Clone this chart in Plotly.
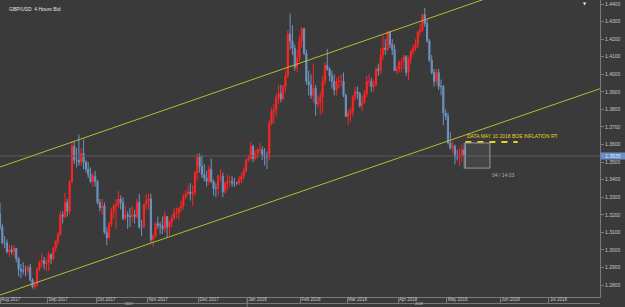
import pandas as pd
import plotly.graph_objects as go

# ---------------- data ----------------
first_day = "2017-08-03"
last_day = "2018-05-10"

opens = [
    # Aug 2017
    1.3205, 1.3130, 1.3040, 1.3040, 1.2990, 1.3000, 1.2990, 1.3010, 1.2950, 1.2890, 1.2880,
    1.2880, 1.2880, 1.2900, 1.2830, 1.2790, 1.2800, 1.2890, 1.2930, 1.2940, 1.2920,
    # Sep
    1.2930, 1.2975, 1.2950, 1.3010, 1.3050, 1.3090, 1.3200, 1.3190, 1.3270, 1.3220, 1.3390,
    1.3590, 1.3510, 1.3510, 1.3500, 1.3550, 1.3500, 1.3460, 1.3430, 1.3390, 1.3420,
    # Oct
    1.3390, 1.3270, 1.3240, 1.3250, 1.3100, 1.3070, 1.3150, 1.3220, 1.3250, 1.3260, 1.3290,
    1.3270, 1.3180, 1.3200, 1.3190, 1.3190, 1.3200, 1.3190, 1.3270, 1.3130, 1.3130, 1.3260,
    # Nov
    1.3280, 1.3290, 1.3060, 1.3080, 1.3150, 1.3140, 1.3140, 1.3120, 1.3190, 1.3130, 1.3160,
    1.3180, 1.3210, 1.3210, 1.3240, 1.3250, 1.3300, 1.3320, 1.3330, 1.3320, 1.3330, 1.3440,
    # Dec
    1.3530, 1.3475, 1.3430, 1.3410, 1.3390, 1.3460, 1.3390, 1.3350, 1.3350, 1.3420, 1.3420,
    1.3330, 1.3380, 1.3390, 1.3390, 1.3380, 1.3380, 1.3380, 1.3400, 1.3420, 1.3450,
    # Jan 2018
    1.3510, 1.3520, 1.3590, 1.3520, 1.3550, 1.3570, 1.3570, 1.3540, 1.3530, 1.3530, 1.3720,
    1.3790, 1.3800, 1.3870, 1.3890, 1.3860, 1.3930, 1.3990, 1.4230, 1.4190, 1.4150, 1.4040,
    1.4090,
    # Feb
    1.4190, 1.4260, 1.4120, 1.3960, 1.3940, 1.3880, 1.3920, 1.3830, 1.3840, 1.3870, 1.3960,
    1.4050, 1.4030, 1.3990, 1.3960, 1.3910, 1.3960, 1.3960, 1.3960, 1.3880,
    # Mar
    1.3760, 1.3780, 1.3790, 1.3870, 1.3900, 1.3890, 1.3820, 1.3840, 1.3890, 1.3960, 1.3960,
    1.3930, 1.3940, 1.4030, 1.4020, 1.4110, 1.4150, 1.4140, 1.4240, 1.4170, 1.4140, 1.4020,
    # Apr
    1.4030, 1.4070, 1.4070, 1.4100, 1.4010, 1.4090, 1.4130, 1.4150, 1.4170, 1.4240, 1.4250,
    1.4340, 1.4290, 1.4190, 1.4080, 1.4010, 1.3960, 1.4010, 1.3930, 1.3930, 1.3780,
    # May
    1.3760, 1.3610, 1.3580, 1.3590, 1.3530, 1.3530, 1.3540, 1.3570,
]

highs = [
    # Aug 2017
    1.3268, 1.3150, 1.3080, 1.3060, 1.3030, 1.3025, 1.3030, 1.3010, 1.2960, 1.2920, 1.2930,
    1.2910, 1.2910, 1.2920, 1.2840, 1.2820, 1.2900, 1.2940, 1.2980, 1.2960, 1.2950,
    # Sep
    1.2990, 1.2980, 1.3020, 1.3060, 1.3100, 1.3220, 1.3220, 1.3325, 1.3290, 1.3400, 1.3620,
    1.3620, 1.3580, 1.3657, 1.3580, 1.3630, 1.3510, 1.3500, 1.3470, 1.3440, 1.3450,
    # Oct
    1.3400, 1.3290, 1.3290, 1.3270, 1.3130, 1.3160, 1.3240, 1.3260, 1.3290, 1.3338, 1.3310,
    1.3300, 1.3250, 1.3220, 1.3240, 1.3250, 1.3230, 1.3290, 1.3320, 1.3170, 1.3260, 1.3320,
    # Nov
    1.3320, 1.3320, 1.3090, 1.3160, 1.3190, 1.3160, 1.3190, 1.3220, 1.3190, 1.3170, 1.3200,
    1.3240, 1.3240, 1.3240, 1.3280, 1.3320, 1.3340, 1.3370, 1.3380, 1.3370, 1.3450, 1.3550,
    # Dec
    1.3549, 1.3540, 1.3490, 1.3450, 1.3480, 1.3520, 1.3400, 1.3380, 1.3430, 1.3460, 1.3440,
    1.3390, 1.3430, 1.3420, 1.3420, 1.3410, 1.3390, 1.3420, 1.3440, 1.3470, 1.3520,
    # Jan 2018
    1.3540, 1.3613, 1.3600, 1.3570, 1.3580, 1.3610, 1.3590, 1.3580, 1.3560, 1.3740, 1.3810,
    1.3830, 1.3890, 1.3940, 1.3940, 1.3940, 1.4020, 1.4250, 1.4345, 1.4280, 1.4170, 1.4140,
    1.4220,
    # Feb
    1.4270, 1.4260, 1.4140, 1.4020, 1.4000, 1.4060, 1.3940, 1.3880, 1.3900, 1.3990, 1.4070,
    1.4145, 1.4040, 1.4020, 1.4000, 1.3980, 1.3990, 1.4000, 1.4010, 1.3890,
    # Mar
    1.3800, 1.3810, 1.3880, 1.3930, 1.3930, 1.3900, 1.3880, 1.3910, 1.3990, 1.4000, 1.3980,
    1.3970, 1.4040, 1.4060, 1.4150, 1.4220, 1.4200, 1.4250, 1.4245, 1.4200, 1.4170, 1.4050,
    # Apr
    1.4080, 1.4090, 1.4110, 1.4110, 1.4100, 1.4140, 1.4170, 1.4200, 1.4250, 1.4290, 1.4345,
    1.4377, 1.4310, 1.4200, 1.4110, 1.4030, 1.4030, 1.4030, 1.3970, 1.3940, 1.3800,
    # May
    1.3780, 1.3670, 1.3620, 1.3600, 1.3570, 1.3580, 1.3600, 1.3610,
]

lows = [
    # Aug 2017
    1.3110, 1.3030, 1.3010, 1.2980, 1.2960, 1.2975, 1.2960, 1.2930, 1.2850, 1.2840, 1.2860,
    1.2850, 1.2860, 1.2820, 1.2780, 1.2774, 1.2790, 1.2880, 1.2900, 1.2890, 1.2880,
    # Sep
    1.2880, 1.2920, 1.2940, 1.2990, 1.3030, 1.3080, 1.3150, 1.3180, 1.3190, 1.3200, 1.3380,
    1.3490, 1.3470, 1.3480, 1.3480, 1.3460, 1.3440, 1.3410, 1.3380, 1.3360, 1.3360,
    # Oct
    1.3260, 1.3220, 1.3200, 1.3090, 1.3027, 1.3060, 1.3130, 1.3180, 1.3120, 1.3240, 1.3230,
    1.3170, 1.3170, 1.3120, 1.3130, 1.3160, 1.3150, 1.3180, 1.3120, 1.3080, 1.3130, 1.3230,
    # Nov
    1.3230, 1.3040, 1.3020, 1.3070, 1.3120, 1.3090, 1.3090, 1.3100, 1.3070, 1.3080, 1.3130,
    1.3170, 1.3180, 1.3170, 1.3220, 1.3230, 1.3290, 1.3310, 1.3280, 1.3250, 1.3310, 1.3400,
    # Dec
    1.3440, 1.3410, 1.3390, 1.3360, 1.3370, 1.3380, 1.3310, 1.3300, 1.3310, 1.3390, 1.3300,
    1.3320, 1.3340, 1.3360, 1.3360, 1.3360, 1.3370, 1.3370, 1.3380, 1.3400, 1.3440,
    # Jan 2018
    1.3500, 1.3510, 1.3500, 1.3510, 1.3520, 1.3550, 1.3510, 1.3480, 1.3460, 1.3510, 1.3710,
    1.3720, 1.3760, 1.3830, 1.3840, 1.3850, 1.3900, 1.3980, 1.4140, 1.4110, 1.4020, 1.4010,
    1.4070,
    # Feb
    1.4150, 1.4110, 1.3940, 1.3880, 1.3860, 1.3840, 1.3765, 1.3810, 1.3770, 1.3780, 1.3940,
    1.4020, 1.3960, 1.3920, 1.3880, 1.3880, 1.3920, 1.3930, 1.3870, 1.3760,
    # Mar
    1.3712, 1.3730, 1.3760, 1.3850, 1.3860, 1.3810, 1.3790, 1.3830, 1.3870, 1.3930, 1.3900,
    1.3900, 1.3930, 1.3990, 1.4000, 1.4080, 1.4110, 1.4130, 1.4150, 1.4110, 1.4020, 1.4000,
    # Apr
    1.4010, 1.4010, 1.4030, 1.3990, 1.3965, 1.4060, 1.4110, 1.4130, 1.4150, 1.4220, 1.4240,
    1.4270, 1.4180, 1.4070, 1.4000, 1.3930, 1.3940, 1.3910, 1.3880, 1.3710, 1.3740,
    # May
    1.3600, 1.3570, 1.3550, 1.3487, 1.3510, 1.3480, 1.3500, 1.3460,
]

closes = [
    # Aug 2017
    1.3130, 1.3040, 1.3040, 1.2990, 1.3000, 1.2990, 1.3010, 1.2950, 1.2890, 1.2880, 1.2880,
    1.2880, 1.2900, 1.2830, 1.2790, 1.2800, 1.2890, 1.2930, 1.2940, 1.2920, 1.2930,
    # Sep
    1.2975, 1.2950, 1.3010, 1.3050, 1.3090, 1.3200, 1.3190, 1.3270, 1.3220, 1.3390, 1.3590,
    1.3510, 1.3510, 1.3500, 1.3550, 1.3500, 1.3460, 1.3430, 1.3390, 1.3420, 1.3390,
    # Oct
    1.3270, 1.3240, 1.3250, 1.3100, 1.3070, 1.3150, 1.3220, 1.3250, 1.3260, 1.3290, 1.3270,
    1.3180, 1.3200, 1.3190, 1.3190, 1.3200, 1.3190, 1.3270, 1.3130, 1.3130, 1.3260, 1.3280,
    # Nov
    1.3290, 1.3060, 1.3080, 1.3150, 1.3140, 1.3140, 1.3120, 1.3190, 1.3130, 1.3160, 1.3180,
    1.3210, 1.3210, 1.3240, 1.3250, 1.3300, 1.3320, 1.3330, 1.3320, 1.3330, 1.3440, 1.3530,
    # Dec
    1.3475, 1.3430, 1.3410, 1.3390, 1.3460, 1.3390, 1.3350, 1.3350, 1.3420, 1.3420, 1.3330,
    1.3380, 1.3390, 1.3390, 1.3380, 1.3380, 1.3380, 1.3400, 1.3420, 1.3450, 1.3510,
    # Jan 2018
    1.3520, 1.3590, 1.3520, 1.3550, 1.3570, 1.3570, 1.3540, 1.3530, 1.3530, 1.3720, 1.3790,
    1.3800, 1.3870, 1.3890, 1.3860, 1.3930, 1.3990, 1.4230, 1.4190, 1.4150, 1.4040, 1.4090,
    1.4190,
    # Feb
    1.4260, 1.4120, 1.3960, 1.3940, 1.3880, 1.3920, 1.3830, 1.3840, 1.3870, 1.3960, 1.4050,
    1.4030, 1.3990, 1.3960, 1.3910, 1.3960, 1.3960, 1.3960, 1.3880, 1.3760,
    # Mar
    1.3780, 1.3790, 1.3870, 1.3900, 1.3890, 1.3820, 1.3840, 1.3890, 1.3960, 1.3960, 1.3930,
    1.3940, 1.4030, 1.4020, 1.4110, 1.4150, 1.4140, 1.4240, 1.4170, 1.4140, 1.4020, 1.4030,
    # Apr
    1.4070, 1.4070, 1.4100, 1.4010, 1.4090, 1.4130, 1.4150, 1.4170, 1.4240, 1.4250, 1.4340,
    1.4290, 1.4190, 1.4080, 1.4010, 1.3960, 1.4010, 1.3930, 1.3930, 1.3780, 1.3760,
    # May
    1.3610, 1.3580, 1.3590, 1.3530, 1.3530, 1.3540, 1.3570, 1.3535,
]

# channel trendlines (end points)
trend_dates = ["2017-08-03 12:00", "2018-08-01 00:00"]
upper_line = [1.3472, 1.4656]
lower_line = [1.2743, 1.3918]

# event / projection box
event_text = "DATA MAY 10 2018 BOE INFLATION RT"
event_dates = ["2018-05-11 00:00", "2018-06-12 12:00"]
event_level = 1.3614
box_dates = ["2018-05-11 00:00", "2018-05-25 14:00"]
box_prices = [1.3466, 1.3609]
box_label = "04 / 14:03"

last_price = 1.3535

# first trading day of each month (weekends are removed from the axis)
month_starts = ["2017-08-03 12:00", "2017-09-01", "2017-10-02", "2017-11-01", "2017-12-01",
                "2018-01-01", "2018-02-01", "2018-03-01", "2018-04-02", "2018-05-01",
                "2018-06-01", "2018-07-02"]
month_labels = ["Aug 2017", "Sep 2017", "Oct 2017", "Nov 2017", "Dec 2017", "Jan 2018",
                "Feb 2018", "Mar 2018", "Apr 2018", "May 2018", "Jun 2018", "Jul 2018"]
price_ticks = [1.28, 1.29, 1.30, 1.31, 1.32, 1.33, 1.34, 1.35, 1.36, 1.37, 1.38, 1.39,
               1.40, 1.41, 1.42, 1.43, 1.44]
year_labels = ["2017", "2018"]
year_start = "2018-01-01"
title_text = "GBP/USD  4 Hours Bid"

# ---------------- figure ----------------
days = pd.bdate_range(first_day, last_day)
assert len(days) == len(opens) == len(highs) == len(lows) == len(closes), (
    len(days), len(opens), len(highs), len(lows), len(closes))
xdates = days + pd.Timedelta(hours=12)

BG = "#3a3a3a"
AX = "#7a7a7a"
TXT = "#c8c8c8"
TREND = "#b3bd2e"
FONT = "Liberation Sans"

fig = go.Figure()
fig.add_trace(go.Candlestick(
    x=xdates, open=opens, high=highs, low=lows, close=closes,
    increasing=dict(line=dict(color="#ff2424", width=1), fillcolor="#ff2424"),
    decreasing=dict(line=dict(color="#6e93c0", width=1), fillcolor="#6e93c0"),
    whiskerwidth=0, showlegend=False, hoverinfo="skip",
))
# last price line
fig.add_trace(go.Scatter(x=trend_dates, y=[last_price, last_price], mode="lines",
                         line=dict(color="#5c5c5c", width=1), showlegend=False,
                         hoverinfo="skip"))
for ys in (upper_line, lower_line):
    fig.add_trace(go.Scatter(x=trend_dates, y=ys, mode="lines",
                             line=dict(color=TREND, width=1), showlegend=False,
                             hoverinfo="skip"))
# event level dashed line
fig.add_trace(go.Scatter(x=event_dates, y=[event_level, event_level], mode="lines",
                         line=dict(color="#e8d81c", width=2, dash="6px,6px"),
                         showlegend=False, hoverinfo="skip"))

fig.add_shape(type="rect", xref="x", yref="y", x0=box_dates[0], x1=box_dates[1],
              y0=box_prices[0], y1=box_prices[1],
              line=dict(color="#9a9a9a", width=1), fillcolor="rgba(255,255,255,0.06)")

# year row
fig.add_shape(type="line", xref="paper", yref="paper", x0=0, x1=1, y0=-0.022, y1=-0.022,
              line=dict(color=AX, width=1))
fig.add_shape(type="line", xref="x", yref="paper", x0=year_start, x1=year_start,
              y0=0, y1=-0.04, line=dict(color=AX, width=1))
for xp, lab in zip((0.207, 0.707), year_labels):
    fig.add_annotation(xref="paper", yref="paper", x=xp, y=-0.0337, yanchor="bottom",
                       text=lab, showarrow=False, borderpad=0,
                       font=dict(size=3.5, color=TXT, family=FONT))

fig.add_annotation(xref="paper", yref="paper", x=0.011, y=0.985, xanchor="left", yanchor="top",
                   text=title_text, showarrow=False, font=dict(size=5, color="#e6e6e6", family=FONT))
fig.add_annotation(xref="paper", yref="paper", x=0.98, y=1.0, yanchor="top",
                   text="▼", showarrow=False, borderpad=0,
                   font=dict(size=4, color="#e6e6e6", family="DejaVu Sans"))
fig.add_annotation(xref="x", yref="y", x=event_dates[0], y=event_level, xanchor="left",
                   yanchor="bottom", yshift=1, text=event_text, showarrow=False,
                   font=dict(size=5, color="#e8d81c", family=FONT))
fig.add_annotation(xref="x", yref="y", x=box_dates[1], y=box_prices[0], xanchor="left",
                   yanchor="top", yshift=-2, text=box_label, showarrow=False,
                   font=dict(size=5, color="#b0b0b0", family=FONT))
fig.add_annotation(xref="paper", yref="y", x=1.0, y=last_price, xanchor="left",
                   text=f"{last_price:.4f}", showarrow=False, bgcolor="#6b90c8",
                   borderpad=0, width=24, height=6,
                   font=dict(size=5, color="#dfe8f5", family=FONT))

fig.update_layout(
    width=625, height=307, margin=dict(l=0, r=25, t=0, b=10),
    paper_bgcolor=BG, plot_bgcolor=BG,
    font=dict(family=FONT, color=TXT, size=6),
    xaxis=dict(
        type="date", range=[trend_dates[0], trend_dates[1]],
        rangebreaks=[dict(bounds=["sat", "mon"])],
        rangeslider=dict(visible=False), showgrid=False, zeroline=False,
        tickmode="array", tickvals=month_starts, ticktext=month_labels,
        ticks="outside", ticklen=6, tickcolor=AX, tickwidth=1,
        ticklabelposition="outside right", ticklabelstandoff=-2,
        tickfont=dict(size=4.5, color=TXT, family=FONT),
        showline=True, linecolor=AX, linewidth=1,
    ),
    yaxis=dict(
        side="right", range=[1.2732, 1.4423], showgrid=False, zeroline=False,
        tickmode="array", tickvals=price_ticks, ticktext=[f"{v:.4f}" for v in price_ticks],
        ticks="outside", ticklen=3, tickcolor=AX, tickfont=dict(size=5, color=TXT, family=FONT),
        showline=True, linecolor=AX, linewidth=1, mirror=False,
    ),
)

fig.write_html("out.html")
